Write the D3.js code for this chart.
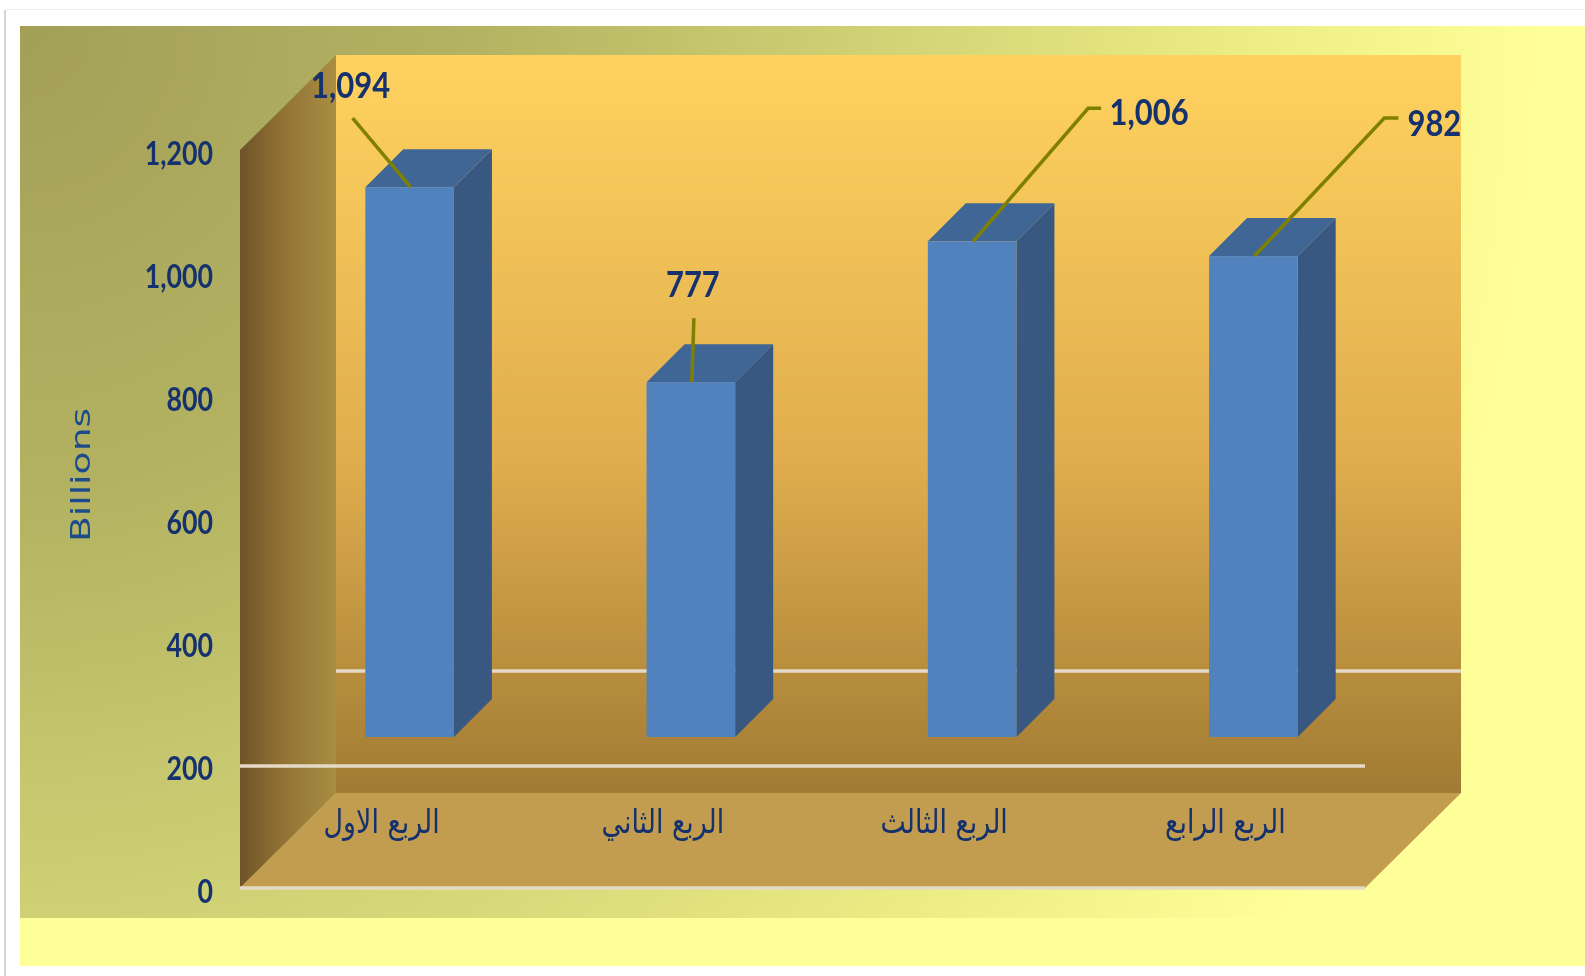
<!DOCTYPE html>
<html>
<head>
<meta charset="utf-8">
<script src="https://cdnjs.cloudflare.com/ajax/libs/d3/7.8.5/d3.min.js"></script>
<style>
  html, body { margin: 0; padding: 0; background: #fff; overflow: hidden; }
  svg { display: block; }
  .num { font-family: Lato, "Liberation Sans", sans-serif; font-weight: 700; fill: #12306e; }
</style>
</head>
<body>
<script>
const categories = ["الربع الاول", "الربع الثاني", "الربع الثالث", "الربع الرابع"];
const values = [1094, 777, 1006, 982];
const yTicks = [0, 200, 400, 600, 800, 1000, 1200];
const axisTitle = "Billions";

const W = 1585, H = 976;
const depth = {x: 96, y: 95};       // side wall / floor depth
const barDepth = {x: 38, y: 38};    // depth of a bar
const barShift = {x: 29, y: 28};    // bars stand a bit inside the floor
const barBase = 200;                // floor of the bars sits on the 200 plane

const svg = d3.select("body").append("svg").attr("width", W).attr("height", H);
const defs = svg.append("defs");

defs.append("filter").attr("id", "soft")
    .attr("x", "-5%").attr("y", "-5%").attr("width", "110%").attr("height", "110%")
    .append("feGaussianBlur").attr("stdDeviation", 0.6);

const panelGrad = defs.append("radialGradient").attr("id", "panelGrad")
    .attr("gradientUnits", "userSpaceOnUse")
    .attr("gradientTransform", "translate(20 26) scale(1 1.06) translate(-20 -26)")
    .attr("cx", 20).attr("cy", 26).attr("r", 1520);
panelGrad.append("stop").attr("offset", "0").attr("stop-color", "#a39f58");
panelGrad.append("stop").attr("offset", "0.3").attr("stop-color", "#b4b362");
panelGrad.append("stop").attr("offset", "0.58").attr("stop-color", "#d2d476");
panelGrad.append("stop").attr("offset", "0.8").attr("stop-color", "#ecec84");
panelGrad.append("stop").attr("offset", "1").attr("stop-color", "#ffff99");

const wallGrad = defs.append("linearGradient").attr("id", "wallGrad");
wallGrad.append("stop").attr("offset", "0").attr("stop-color", "#6e5428");
wallGrad.append("stop").attr("offset", "0.4").attr("stop-color", "#8f7033");
wallGrad.append("stop").attr("offset", "1").attr("stop-color", "#a98d42");

const backGrad = defs.append("linearGradient").attr("id", "backGrad")
    .attr("x1", 0).attr("y1", 0).attr("x2", 0).attr("y2", 1);
backGrad.append("stop").attr("offset", "0").attr("stop-color", "#ffd25f");
backGrad.append("stop").attr("offset", "0.55").attr("stop-color", "#dfad4e");
backGrad.append("stop").attr("offset", "1").attr("stop-color", "#a17b33");

var x = d3.scaleBand()
    .domain(categories)
    .range([240, 1365])
    .paddingInner(0.685)
    .paddingOuter(0.3425);

var y = d3.scaleLinear()
    .domain([0, 1200])
    .range([888, 150]);

const x0 = x.range()[0], x1 = x.range()[1];
const y0 = y(0), yTop = y(1200);

// page edge
svg.append("rect").attr("x", 4).attr("y", 10).attr("width", 2).attr("height", H - 10).attr("fill", "#d4d4d4");
svg.append("rect").attr("x", 5).attr("y", 9).attr("width", W - 5).attr("height", 1).attr("fill", "#efefef");

const g = svg.append("g").attr("filter", "url(#soft)");

// background
g.append("rect").attr("x", 20).attr("y", 26).attr("width", W - 20).attr("height", 940).attr("fill", "#ffff99");
g.append("rect").attr("x", 20).attr("y", 26).attr("width", W - 20).attr("height", 892).attr("fill", "url(#panelGrad)");

// back wall, side wall, floor
g.append("rect")
    .attr("x", x0 + depth.x).attr("y", yTop - depth.y)
    .attr("width", x1 - x0).attr("height", y0 - yTop)
    .attr("fill", "url(#backGrad)");

g.append("polygon")
    .attr("points", [[x0, yTop], [x0 + depth.x, yTop - depth.y], [x0 + depth.x, y0 - depth.y], [x0, y0]].join(" "))
    .attr("fill", "url(#wallGrad)");

g.append("polygon")
    .attr("points", [[x0, y0], [x0 + depth.x, y0 - depth.y], [x1 + depth.x, y0 - depth.y], [x1, y0]].join(" "))
    .attr("fill", "#c29c50");

// gridlines, only the 200 one shows in the source
g.append("line")
    .attr("x1", x0 + depth.x).attr("x2", x1 + depth.x)
    .attr("y1", y(barBase) - depth.y + 1).attr("y2", y(barBase) - depth.y + 1)
    .attr("stroke", "#e6dac6").attr("stroke-width", 3.5);

g.append("line")
    .attr("x1", x0).attr("x2", x1)
    .attr("y1", y(barBase) + 1).attr("y2", y(barBase) + 1)
    .attr("stroke", "#e6dac6").attr("stroke-width", 3.5);

g.append("line")
    .attr("x1", x0).attr("x2", x1)
    .attr("y1", y0).attr("y2", y0)
    .attr("stroke", "#e3dcc4").attr("stroke-width", 3.5);

// bars
var bars = g.selectAll(".bar").data(values).enter().append("g").attr("class", "bar");

function barLeft(d, i) { return x(categories[i]) + barShift.x; }
function barTop(d) { return y(d) - barShift.y; }
const barBottom = y(barBase) - barShift.y;

bars.append("polygon")
    .attr("fill", "#375881")
    .attr("points", function(d, i) {
        const r = barLeft(d, i) + x.bandwidth();
        return [[r, barTop(d)], [r + barDepth.x, barTop(d) - barDepth.y],
                [r + barDepth.x, barBottom - barDepth.y], [r, barBottom]].join(" ");
    });

bars.append("polygon")
    .attr("fill", "#416695")
    .attr("points", function(d, i) {
        const l = barLeft(d, i), r = l + x.bandwidth(), t = barTop(d);
        return [[l, t], [l + barDepth.x, t - barDepth.y], [r + barDepth.x, t - barDepth.y], [r, t]].join(" ");
    });

bars.append("rect")
    .attr("fill", "#5182be")
    .attr("x", barLeft)
    .attr("y", barTop)
    .attr("width", x.bandwidth())
    .attr("height", function(d) { return barBottom - barTop(d); });

// leader lines and value labels: offsets from the middle of the bar top
const leaders = [
    {pts: [[1, 0], [-57, -69]], tx: -59, ty: -103},
    {pts: [[1, 0], [3, -64]], tx: 2, ty: -99},
    {pts: [[1, 0], [116, -133], [129, -133]], tx: 177, ty: -130},
    {pts: [[1, 0], [131, -138], [145, -138]], tx: 181, ty: -134}
];

values.forEach(function(d, i) {
    const cx = barLeft(d, i) + x.bandwidth() / 2, cy = barTop(d);
    g.append("path")
        .attr("d", d3.line()(leaders[i].pts.map(function(p) { return [cx + p[0], cy + p[1]]; })))
        .attr("fill", "none").attr("stroke", "#808000").attr("stroke-width", 3.5);
    g.append("text")
        .attr("class", "num")
        .attr("transform", "translate(" + (cx + leaders[i].tx) + "," + (cy + leaders[i].ty) + ") scale(0.86,1)")
        .attr("text-anchor", "middle").attr("dominant-baseline", "central")
        .style("font-size", "36px")
        .text(d3.format(",")(d));
});

// y tick labels
g.selectAll(".ytick").data(yTicks).enter().append("text")
    .attr("class", "num ytick")
    .attr("transform", function(d) { return "translate(213," + (y(d) + 2) + ") scale(0.81,1)"; })
    .attr("text-anchor", "end").attr("dominant-baseline", "central")
    .style("font-size", "33px")
    .text(d3.format(","));

// category labels
g.selectAll(".cat").data(categories).enter().append("text")
    .attr("class", "cat")
    .attr("transform", function(d) { return "translate(" + (x(d) + x.bandwidth() / 2 + 1) + ",821) scale(0.96,1.18)"; })
    .attr("text-anchor", "middle").attr("dominant-baseline", "central")
    .attr("direction", "rtl")
    .style("font-family", '"DejaVu Sans", sans-serif')
    .style("font-size", "28px")
    .style("fill", "#12306e")
    .text(function(d) { return d; });

// axis title, stretched along its length like the source
g.append("text")
    .attr("transform", "translate(81,475) rotate(-90) scale(1.57,1.1)")
    .attr("text-anchor", "middle").attr("dominant-baseline", "central")
    .style("font-family", '"DejaVu Sans", sans-serif')
    .style("font-size", "24px")
    .style("fill", "#1d4d8a")
    .text(axisTitle);
</script>
</body>
</html>
